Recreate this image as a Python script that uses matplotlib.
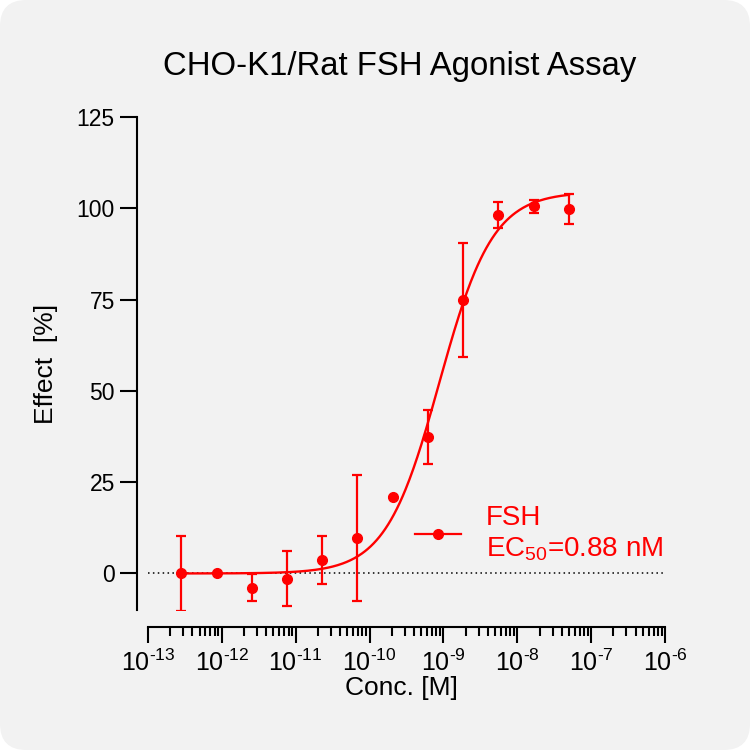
import matplotlib

matplotlib.use("Agg")
import matplotlib.pyplot as plt
import numpy as np
from matplotlib.patches import FancyBboxPatch
from matplotlib.ticker import FixedLocator, FuncFormatter

plt.rcParams["font.family"] = ["Liberation Sans", "DejaVu Sans"]
plt.rcParams["mathtext.fontset"] = "custom"
plt.rcParams["mathtext.rm"] = "Liberation Sans"
plt.rcParams["mathtext.it"] = "Liberation Sans:italic"
plt.rcParams["mathtext.bf"] = "Liberation Sans:bold"

# FSH dose response (3-fold dilution series)
conc = np.array([2.82e-13, 8.47e-13, 2.54e-12, 7.62e-12, 2.29e-11, 6.86e-11,
                 2.06e-10, 6.17e-10, 1.85e-9, 5.56e-9, 1.67e-8, 5.0e-8])
effect = np.array([0.0, 0.0, -3.9, -1.4, 3.7, 9.8, 21.0, 37.4, 75.0, 98.1, 100.5, 99.8])
sem = np.array([10.4, 0.0, 3.7, 7.5, 6.7, 17.2, 0.0, 7.3, 15.6, 3.5, 1.7, 4.2])

# 4PL fit parameters
fit_bottom = 0.0
fit_top = 104.5
ec50 = 0.88e-9
hill = 1.2

yticks = [0, 25, 50, 75, 100, 125]
decades = list(range(-13, -5))
red = "#ff0000"

fig = plt.figure(figsize=(7.5, 7.5), dpi=100)
fig.patch.set_facecolor("white")
fig.patches.append(FancyBboxPatch((0, 0), 1, 1, boxstyle="round,pad=0,rounding_size=0.035",
                                  transform=fig.transFigure, facecolor="#f2f2f2",
                                  edgecolor="none", zorder=-10))

ax = fig.add_axes([137 / 750, 1 - 610 / 750, 528 / 750, 493 / 750])
ax.set_facecolor("none")
ax.set_xscale("log")
ax.set_xlim(10 ** (-13 - 11 / 73.86), 1e-6)
ax.set_ylim(-10, 125)

xs = np.logspace(np.log10(conc[0]), np.log10(conc[-1]), 400)
fit = fit_bottom + (fit_top - fit_bottom) / (1 + (ec50 / xs) ** hill)

ax.plot([1e-13, 1e-6], [0, 0], color="black", lw=1.1, ls=(0, (1, 2.2)), zorder=1)
ax.plot(xs, fit, color=red, lw=1.7, zorder=2)
ax.errorbar(conc, effect, yerr=sem, fmt="o", color=red, ms=7, elinewidth=1.6,
            capsize=3.5, capthick=1.6, zorder=3)
handle, = ax.plot([], [], "-o", color=red, lw=1.6, ms=7)

for s in ("top", "right"):
    ax.spines[s].set_visible(False)
ax.spines["left"].set_linewidth(1.5)
ax.spines["bottom"].set_linewidth(1.5)
ax.spines["bottom"].set_position(("outward", 12))
ax.spines["bottom"].set_bounds(1e-13, 1e-6)

major = [10.0 ** d for d in decades]
minor = [m * 10.0 ** d for d in decades[:-1] for m in range(2, 10)]
ax.yaxis.set_major_locator(FixedLocator(yticks))
ax.xaxis.set_major_locator(FixedLocator(major))
ax.xaxis.set_minor_locator(FixedLocator(minor))
ax.xaxis.set_major_formatter(FuncFormatter(
    lambda v, p: r"$\mathdefault{10^{\text{-}%d}}$" % round(-np.log10(v))))
ax.tick_params(axis="y", length=12, width=1.5, pad=4, labelsize=16.5)
ax.tick_params(axis="x", which="major", length=11.5, width=1.5, pad=5, labelsize=18)
ax.tick_params(axis="x", which="minor", length=6.5, width=1.5)

ax.set_xlabel("Conc. [M]", fontsize=19, labelpad=0)
ax.set_ylabel("Effect  [%]", fontsize=19, labelpad=13)
fig.text(400 / 750, 1 - 67 / 750, "CHO-K1/Rat FSH Agonist Assay", fontsize=23.7,
         ha="center", va="center")

ax.legend([handle], ["FSH\nEC$_{50}$=0.88 nM"], loc="center left",
          bbox_to_anchor=((415 - 137) / 528, (610 - 534) / 493), frameon=False,
          fontsize=20, labelcolor=red, handlelength=1.65, handletextpad=0.9,
          borderpad=0, borderaxespad=0)

fig.savefig("out.png", dpi=100)
